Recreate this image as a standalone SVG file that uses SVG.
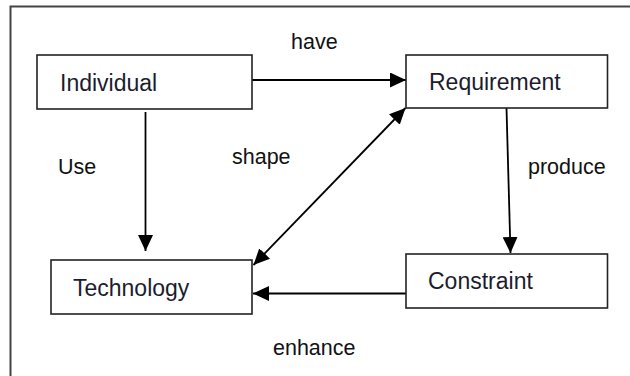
<svg xmlns="http://www.w3.org/2000/svg" width="630" height="376" viewBox="0 0 630 376">
<style>
.box{fill:#fff;stroke:#222;stroke-width:1.6}
.nt{font-family:"Liberation Sans",Arial,sans-serif;font-size:23px;fill:#1c1c2e}
.lt{font-family:"Liberation Sans",Arial,sans-serif;font-size:21.5px;fill:#111}
.cn{stroke:#000;stroke-width:1.8;fill:none}
.frame{stroke:#444;stroke-width:2;fill:none}
</style>
<defs>
<marker id="ah" markerUnits="userSpaceOnUse" markerWidth="17" markerHeight="15" refX="16" refY="7.5" orient="auto-start-reverse" viewBox="0 0 17 15">
<path d="M0,0 L16,7.5 L0,15 z" fill="#000"/>
</marker>
</defs>
<rect width="630" height="376" fill="#fff"/>
<path class="frame" d="M10.5,376 L10.5,6.5 L630,6.5"/>
<g id="connectors">
<line class="cn" x1="252" y1="80" x2="406" y2="80" marker-end="url(#ah)"/>
<line class="cn" x1="145.5" y1="112" x2="145.5" y2="251" marker-end="url(#ah)"/>
<line class="cn" x1="506.5" y1="108" x2="510.5" y2="253" marker-end="url(#ah)"/>
<line class="cn" x1="406" y1="293.5" x2="253" y2="293.5" marker-end="url(#ah)"/>
<line class="cn" x1="253.5" y1="265" x2="405.5" y2="108" marker-start="url(#ah)" marker-end="url(#ah)"/>
</g>
<g id="individual">
<rect class="box" x="37" y="55" width="215" height="54"/>
<text class="nt" x="60" y="90.5">Individual</text>
</g>
<g id="requirement">
<rect class="box" x="406" y="55" width="201.5" height="53"/>
<text class="nt" x="429" y="90">Requirement</text>
</g>
<g id="technology">
<rect class="box" x="51" y="260" width="201" height="54"/>
<text class="nt" x="73" y="296">Technology</text>
</g>
<g id="constraint">
<rect class="box" x="406" y="254" width="201.5" height="54"/>
<text class="nt" x="428" y="289">Constraint</text>
</g>
<g id="labels">
<text class="lt" x="291" y="48.5">have</text>
<text class="lt" x="58" y="174">Use</text>
<text class="lt" x="232" y="164">shape</text>
<text class="lt" x="528" y="174">produce</text>
<text class="lt" x="273" y="355">enhance</text>
</g>
</svg>
